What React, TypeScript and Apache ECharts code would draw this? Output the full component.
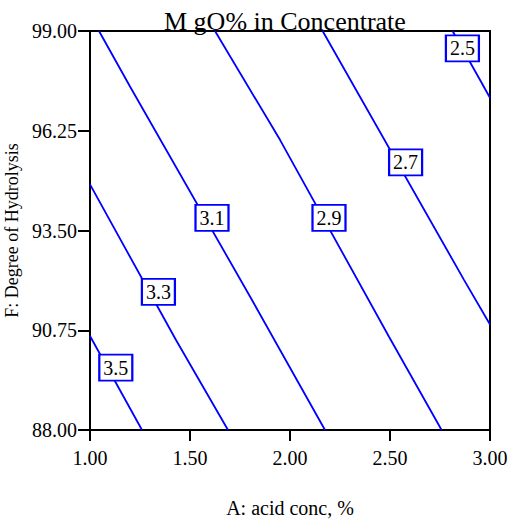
import React, { useEffect, useRef } from "react";
import * as echarts from "echarts";

const FONT = "Liberation Serif";
const BLUE = "#0000ff";

const titleText = "M gO% in Concentrate";
const xName = "A: acid conc, %";
const yName = "F: Degree of Hydrolysis";

const xTicks = [1.0, 1.5, 2.0, 2.5, 3.0];
const yTicks = [88.0, 90.75, 93.5, 96.25, 99.0];

const levels = ["3.5", "3.3", "3.1", "2.9", "2.7", "2.5"];

const contour35 = [[1.0, 90.59], [1.26, 88.0]];
const contour33 = [[1.0, 94.77], [1.43, 90.48], [1.69, 88.0]];
const contour31 = [[1.045, 99.0], [1.2, 97.47], [1.8, 91.68], [2.175, 88.0]];
const contour29 = [[1.625, 99.0], [1.95, 96.0], [2.495, 90.57], [2.758, 88.0]];
const contour27 = [[2.163, 99.0], [2.87, 92.14], [3.0, 90.91]];
const contour25 = [[2.813, 99.0], [3.0, 97.16]];

const labelX = [1.129, 1.342, 1.61, 2.195, 2.578, 2.862];
const labelY = [89.72, 91.81, 93.85, 93.85, 95.38, 98.52];

const contours = [contour35, contour33, contour31, contour29, contour27, contour25];

export default function App() {
  const ref = useRef<HTMLDivElement>(null);
  useEffect(() => {
    if (!ref.current) return;
    const chart = echarts.init(ref.current, null, { renderer: "svg" });
    const lineSeries = contours.map((pts, i) => ({
      type: "line",
      name: levels[i],
      data: pts,
      showSymbol: false,
      symbol: "none",
      lineStyle: { color: BLUE, width: 1.8 },
      z: 2,
      clip: true,
    }));
    const labelSeries = {
      type: "scatter",
      data: levels.map((l, i) => [labelX[i], labelY[i], l]),
      symbol: "rect",
      symbolSize: [33, 26],
      itemStyle: { color: "#ffffff", borderColor: BLUE, borderWidth: 2, opacity: 1 },
      label: {
        show: true,
        position: "inside",
        formatter: (p: any) => p.value[2],
        color: "#000",
        fontSize: 20,
        fontFamily: FONT,
      },
      z: 5,
    };
    chart.setOption({
      animation: false,
      backgroundColor: "#ffffff",
      textStyle: { fontFamily: FONT },
      title: {
        text: titleText,
        left: 164,
        top: 8,
        padding: 0,
        textStyle: { fontFamily: FONT, fontSize: 26, fontWeight: "normal", color: "#000" },
      },
      grid: {
        left: 90,
        top: 31,
        width: 400,
        height: 399,
        containLabel: false,
        outerBoundsMode: "none",
        show: true,
        borderColor: "#000",
        borderWidth: 2,
        backgroundColor: "transparent",
      },
      xAxis: {
        type: "value",
        min: xTicks[0],
        max: xTicks[xTicks.length - 1],
        interval: xTicks[1] - xTicks[0],
        name: xName,
        nameLocation: "middle",
        nameGap: 68,
        nameTextStyle: { fontFamily: FONT, fontSize: 20, color: "#000" },
        axisLine: { show: true, lineStyle: { color: "#000", width: 2 } },
        axisTick: { show: true, length: 11, lineStyle: { color: "#000", width: 2 } },
        axisLabel: {
          margin: 18,
          fontFamily: FONT,
          fontSize: 20,
          color: "#000",
          formatter: (v: number) => v.toFixed(2),
        },
        splitLine: { show: false },
      },
      yAxis: {
        type: "value",
        min: yTicks[0],
        max: yTicks[yTicks.length - 1],
        interval: yTicks[1] - yTicks[0],
        name: yName,
        nameLocation: "middle",
        nameGap: 66,
        nameTextStyle: { fontFamily: FONT, fontSize: 18, color: "#000" },
        axisLine: { show: true, lineStyle: { color: "#000", width: 2 } },
        axisTick: { show: true, length: 12, lineStyle: { color: "#000", width: 2 } },
        axisLabel: {
          margin: 13,
          fontFamily: FONT,
          fontSize: 20,
          color: "#000",
          formatter: (v: number) => v.toFixed(2),
        },
        splitLine: { show: false },
      },
      series: [...lineSeries, labelSeries],
    });
    return () => chart.dispose();
  }, []);
  return (
    <div
      ref={ref}
      style={{ position: "fixed", left: 0, top: 0, width: 511, height: 523, background: "#fff" }}
    />
  );
}
